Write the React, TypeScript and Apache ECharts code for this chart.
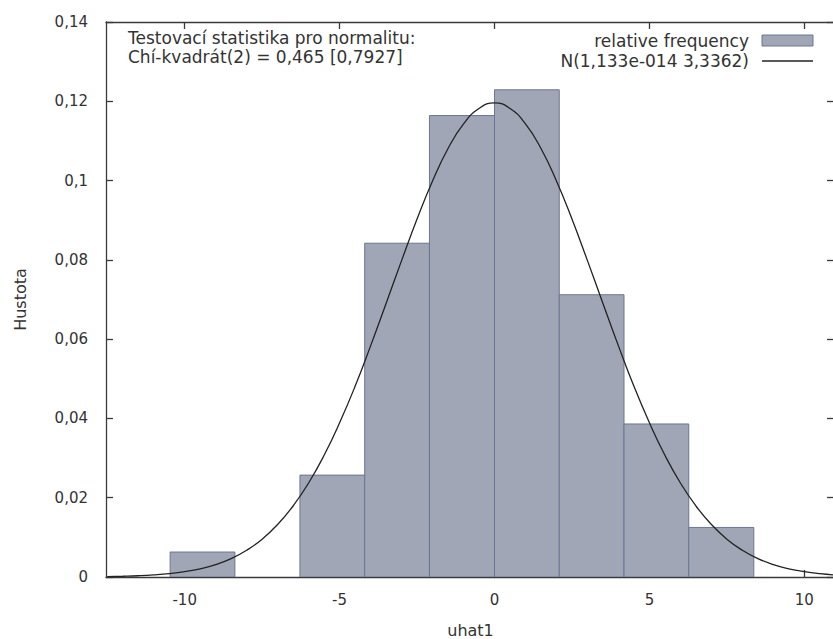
import React, { useEffect, useRef } from "react";
import * as echarts from "echarts";

// Histogram bins (uhat1) — left edges, right edges, density
const binLeft = [-10.47, -8.38, -6.28, -4.19, -2.1, 0.0, 2.09, 4.18, 6.27];
const binRight = [-8.38, -6.28, -4.19, -2.1, 0.0, 2.09, 4.18, 6.27, 8.37];
const binDensity = [0.0063, 0, 0.0257, 0.0842, 0.1164, 0.1229, 0.0712, 0.0386, 0.0125];

// Normal density curve
const curveX = [
  -12.5, -12, -11.5, -11, -10.5, -10, -9.5, -9, -8.5, -8, -7.5, -7, -6.5, -6, -5.5, -5,
  -4.5, -4, -3.5, -3, -2.5, -2, -1.5, -1, -0.5, 0, 0.5, 1, 1.5, 2, 2.5, 3, 3.5, 4, 4.5,
  5, 5.5, 6, 6.5, 7, 7.5, 8, 8.5, 9, 9.5, 10, 10.5, 11,
];
const curveY = [
  0.00011, 0.00019, 0.00031, 0.00052, 0.00084, 0.00134, 0.00207, 0.00314, 0.00465, 0.00675,
  0.00955, 0.01324, 0.01792, 0.02372, 0.0307, 0.0389, 0.0481, 0.0583, 0.069, 0.0798, 0.0903,
  0.0999, 0.1081, 0.1143, 0.1182, 0.1196, 0.1182, 0.1143, 0.1081, 0.0999, 0.0903, 0.0798,
  0.069, 0.0583, 0.0481, 0.0389, 0.0307, 0.02372, 0.01792, 0.01324, 0.00955, 0.00675, 0.00465,
  0.00314, 0.00207, 0.00134, 0.00084, 0.00052,
];

const xTicks = [-10, -5, 0, 5, 10];
const xTickLabels = ["-10", "-5", "0", "5", "10"];
const annotationLines = ["Testovací statistika pro normalitu:", "Chí-kvadrát(2) = 0,465 [0,7927]"];
const seriesNames = ["relative frequency", "N(1,133e-014 3,3362)"];
const xName = "uhat1";
const yName = "Hustota";

const FONT = "DejaVu Sans";
const TEXT = "#333";
const AXIS = "#3a3a3a";
const BAR_FILL = "#a0a6b5";
const BAR_STROKE = "#6d7690";

export default function App() {
  const ref = useRef<HTMLDivElement>(null);
  useEffect(() => {
    if (!ref.current) return;
    const chart = echarts.init(ref.current, undefined, { renderer: "svg" });
    const xMin = -12.54;
    const xMax = 10.99;
    const axisLineStyle = { color: AXIS, width: 1.3 };
    const tickStyle = { color: AXIS, width: 1.3 };
    const fmtY = (v: number) => {
      const r = Math.round(v * 100) / 100;
      return String(r).replace(".", ",");
    };
    const barData = binLeft.map((l, i) => [l, binRight[i], binDensity[i]]);
    chart.setOption({
      animation: false,
      backgroundColor: "#fff",
      textStyle: { fontFamily: FONT },
      grid: {
        left: 106,
        top: 22,
        width: 729,
        height: 555,
        containLabel: false,
        outerBoundsMode: "none",
      },
      xAxis: [
        {
          type: "value",
          min: xMin,
          max: xMax,
          position: "bottom",
          name: xName,
          nameLocation: "middle",
          nameGap: 45,
          nameTextStyle: { fontFamily: FONT, fontSize: 16, color: TEXT },
          axisLine: { show: true, onZero: false, lineStyle: axisLineStyle },
          axisTick: { show: true, inside: true, length: 7, lineStyle: tickStyle, customValues: xTicks },
          axisLabel: {
            show: true,
            margin: 15,
            fontFamily: FONT,
            fontSize: 15,
            color: TEXT,
            customValues: xTicks,
            formatter: (v: number) => xTickLabels[xTicks.indexOf(Math.round(v))] ?? String(v),
          },
          splitLine: { show: false },
        },
        {
          type: "value",
          min: xMin,
          max: xMax,
          position: "top",
          axisLine: { show: true, onZero: false, lineStyle: axisLineStyle },
          axisTick: { show: true, inside: true, length: 7, lineStyle: tickStyle, customValues: xTicks },
          axisLabel: { show: false },
          splitLine: { show: false },
        },
      ],
      yAxis: [
        {
          type: "value",
          min: 0,
          max: 0.14,
          interval: 0.02,
          position: "left",
          name: yName,
          nameLocation: "middle",
          nameGap: 78,
          nameRotate: 90,
          nameTextStyle: { fontFamily: FONT, fontSize: 16, color: TEXT },
          axisLine: { show: true, onZero: false, lineStyle: axisLineStyle },
          axisTick: { show: true, inside: true, length: 7, lineStyle: tickStyle },
          axisLabel: { margin: 18, fontFamily: FONT, fontSize: 15, color: TEXT, formatter: fmtY },
          splitLine: { show: false },
        },
        {
          type: "value",
          min: 0,
          max: 0.14,
          interval: 0.02,
          position: "right",
          axisLine: { show: true, onZero: false, lineStyle: axisLineStyle },
          axisTick: { show: true, inside: true, length: 8, lineStyle: tickStyle },
          axisLabel: { show: false },
          splitLine: { show: false },
        },
      ],
      series: [
        {
          name: seriesNames[0],
          type: "custom",
          xAxisIndex: 0,
          yAxisIndex: 0,
          encode: { x: [0, 1], y: 2 },
          data: barData,
          clip: true,
          renderItem: (params: any, api: any) => {
            const h = api.value(2);
            if (!h) return null;
            const p0 = api.coord([api.value(0), h]);
            const p1 = api.coord([api.value(1), 0]);
            return {
              type: "rect",
              shape: { x: p0[0], y: p0[1], width: p1[0] - p0[0], height: p1[1] - p0[1] },
              style: { fill: BAR_FILL, stroke: BAR_STROKE, lineWidth: 1 },
            };
          },
          z: 2,
        },
        {
          name: seriesNames[1],
          type: "line",
          xAxisIndex: 0,
          yAxisIndex: 0,
          data: curveX.map((x, i) => [x, curveY[i]]),
          smooth: true,
          showSymbol: false,
          symbol: "none",
          clip: true,
          lineStyle: { color: "#222", width: 1.3 },
          z: 3,
        },
      ],
      graphic: [
        {
          type: "text",
          x: 128,
          y: 38,
          style: { text: annotationLines[0], font: `17px "${FONT}"`, fill: TEXT, verticalAlign: "middle" },
          z: 10,
        },
        {
          type: "text",
          x: 128,
          y: 57,
          style: { text: annotationLines[1], font: `17px "${FONT}"`, fill: TEXT, verticalAlign: "middle" },
          z: 10,
        },
        {
          type: "text",
          x: 749,
          y: 41,
          style: { text: seriesNames[0], font: `17px "${FONT}"`, fill: TEXT, align: "right", verticalAlign: "middle" },
          z: 10,
        },
        {
          type: "rect",
          shape: { x: 762, y: 35, width: 51, height: 11 },
          style: { fill: BAR_FILL, stroke: BAR_STROKE, lineWidth: 1 },
          z: 10,
        },
        {
          type: "text",
          x: 749,
          y: 61,
          style: { text: seriesNames[1], font: `17px "${FONT}"`, fill: TEXT, align: "right", verticalAlign: "middle" },
          z: 10,
        },
        {
          type: "line",
          shape: { x1: 762, y1: 61, x2: 813, y2: 61 },
          style: { stroke: "#222", lineWidth: 1.3 },
          z: 10,
        },
      ],
    });
    return () => chart.dispose();
  }, []);
  return (
    <div
      ref={ref}
      style={{ position: "fixed", left: 0, top: 0, width: 833, height: 639, background: "#fff" }}
    />
  );
}
